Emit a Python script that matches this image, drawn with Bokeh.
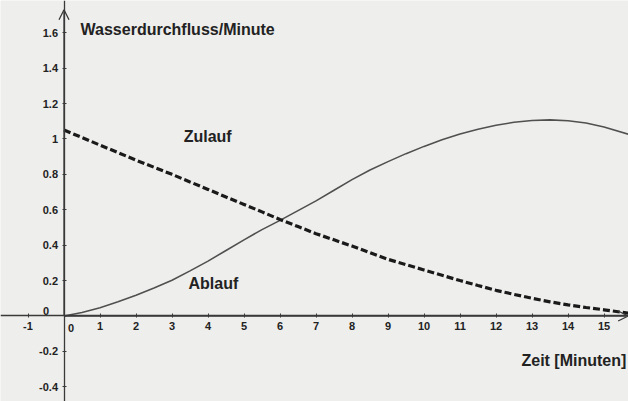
from bokeh.plotting import figure
from bokeh.models import Range1d, Arrow, OpenHead, FixedTicker
from bokeh.core.properties import value
from bokeh.embed import file_html
from bokeh.resources import INLINE

# ---- data ----
minutes = [0, 0.5, 1, 1.5, 2, 2.5, 3, 3.5, 4, 4.5, 5, 5.5, 6, 6.5, 7, 7.5,
           8, 8.5, 9, 9.5, 10, 10.5, 11, 11.5, 12, 12.5, 13, 13.5, 14, 14.5,
           15, 15.7]
zulauf = [1.05, 1.008, 0.965, 0.923, 0.88, 0.84, 0.80, 0.757, 0.715, 0.672,
          0.63, 0.588, 0.545, 0.505, 0.465, 0.43, 0.395, 0.357, 0.32, 0.29,
          0.26, 0.23, 0.20, 0.172, 0.145, 0.122, 0.10, 0.08, 0.063, 0.048,
          0.035, 0.015]
ablauf = [0.0, 0.02, 0.047, 0.08, 0.117, 0.158, 0.202, 0.255, 0.31, 0.37,
          0.43, 0.488, 0.54, 0.595, 0.65, 0.71, 0.77, 0.825, 0.872, 0.917,
          0.958, 0.995, 1.028, 1.055, 1.077, 1.094, 1.104, 1.108, 1.103,
          1.09, 1.068, 1.025]

x_ticks = [-1, 0, 1, 2, 3, 4, 5, 6, 7, 8, 9, 10, 11, 12, 13, 14, 15]
x_tick_labels = ["-1", "0", "1", "2", "3", "4", "5", "6", "7", "8", "9",
                 "10", "11", "12", "13", "14", "15"]
y_ticks = [-0.4, -0.2, 0, 0.2, 0.4, 0.6, 0.8, 1, 1.2, 1.4, 1.6]
y_tick_labels = ["-0.4", "-0.2", "0", "0.2", "0.4", "0.6", "0.8", "1",
                 "1.2", "1.4", "1.6"]

y_title = "Wasserdurchfluss/Minute"
x_title = "Zeit [Minuten]"
label_in = "Zulauf"
label_out = "Ablauf"

# ---- layout / style ----
W, H = 628, 401
X_START, X_END = -1.764, 15.68
Y_START, Y_END = -0.483, 1.782
Y_TIP = 1.73
BG = "#eeeeec"
AX = "#3a3a3a"
TXT = "#222222"
FONT = "Liberation Sans"

p = figure(width=W, height=H,
           x_range=Range1d(X_START, X_END), y_range=Range1d(Y_START, Y_END),
           output_backend="svg", toolbar_location=None, min_border=0,
           background_fill_color=BG, border_fill_color=BG,
           outline_line_color=None)
p.grid.visible = False

for ax, ticks, labels in ((p.xaxis, x_ticks, x_tick_labels),
                          (p.yaxis, y_ticks, y_tick_labels)):
    ax.fixed_location = 0
    ax.ticker = FixedTicker(ticks=ticks)
    ov = {t: l for t, l in zip(ticks, labels)}
    ov[0] = ""
    ax.major_label_overrides = ov
    ax.axis_line_color = AX
    ax.axis_line_width = 1.3
    ax.major_tick_line_color = AX
    ax.major_tick_in = 2
    ax.major_tick_out = 2
    ax.minor_tick_line_color = None
    ax.major_label_text_font = FONT
    ax.major_label_text_font_style = "bold"
    ax.major_label_text_font_size = "11px"
    ax.major_label_text_color = TXT

p.xaxis.major_label_standoff = 4
p.yaxis.major_label_standoff = 4

# axis arrows
p.add_layout(Arrow(end=OpenHead(size=10, line_width=1.3, line_color=AX),
                   x_start=0, y_start=0, x_end=0, y_end=Y_TIP,
                   line_color=AX, line_width=1.3))
p.add_layout(Arrow(end=OpenHead(size=10, line_width=1.3, line_color=AX),
                   x_start=0, y_start=0, x_end=X_END - 0.01, y_end=0,
                   line_color=AX, line_width=1.3))

# curves
p.line(minutes, ablauf, line_color="#505050", line_width=1.6)
p.line(minutes, zulauf, line_color="#1a1a1a", line_width=3.2, line_dash="7 3")

# zero labels (placed off the axis crossing, as in the original)
zero_x = x_tick_labels[x_ticks.index(0)]
zero_y = y_tick_labels[y_ticks.index(0)]
p.text(x=[0], y=[0], text=[zero_y], x_offset=-18, y_offset=-5,
       text_font=value(FONT), text_font_style="bold", text_font_size="11px",
       text_align="center", text_baseline="middle", text_color=TXT)
p.text(x=[0], y=[0], text=[zero_x], x_offset=7, y_offset=12,
       text_font=value(FONT), text_font_style="bold", text_font_size="11px",
       text_align="center", text_baseline="middle", text_color=TXT)

# texts
common = dict(text_font=value(FONT), text_font_size="16px",
              text_font_style="bold", text_baseline="middle", text_color=TXT)
p.text(x=[0.46], y=[1.616], text=[y_title], text_align="left", **common)
p.text(x=[15.62], y=[-0.249], text=[x_title], text_align="right", **common)
p.text(x=[3.99], y=[1.011], text=[label_in], text_align="center", **common)
p.text(x=[4.15], y=[0.183], text=[label_out], text_align="center", **common)

open("out.html", "w").write(file_html(p, INLINE))
